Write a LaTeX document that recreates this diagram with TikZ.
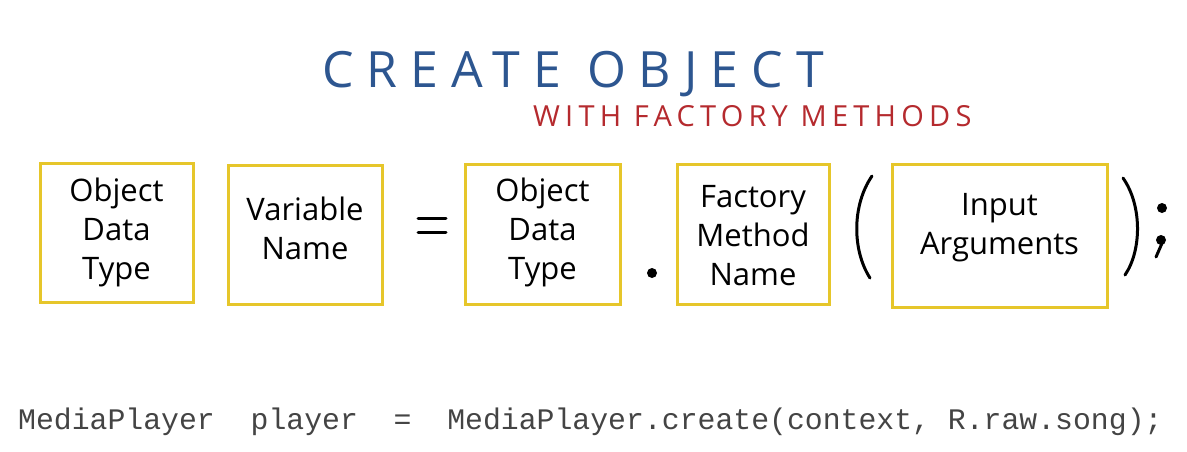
\documentclass[tikz,border=0pt]{standalone}
\usepackage{fontspec}
\setmainfont{Open Sans}
\newfontfamily\codefont{Liberation Mono}
\newfontfamily\handfont{Open Sans}
\newfontfamily\titlefont[LetterSpace=26]{Open Sans}
\newfontfamily\subfont[LetterSpace=18]{Open Sans}
\definecolor{boxyellow}{HTML}{E6C62A}
\definecolor{titleblue}{HTML}{2D5690}
\definecolor{titlered}{HTML}{B52A2E}
\definecolor{codegray}{HTML}{444444}
\begin{document}
\begin{tikzpicture}[x=1pt,y=-1pt,
  termbox/.style={draw=boxyellow, line width=3pt, fill=white, inner sep=0pt},
  boxtext/.style={font=\handfont\fontsize{31}{39}\selectfont, align=center, text=black},
  sym/.style={line width=3pt, line cap=round, black}]
\useasboundingbox[fill=white] (0,0) rectangle (1187,451);
% title
\node[font=\titlefont\fontsize{50}{60}\selectfont, text=titleblue, anchor=base west, inner sep=0pt] (title) at (322,87) {CREATE OBJECT};
\node[font=\subfont\fontsize{29}{36}\selectfont, text=titlered, anchor=base west, inner sep=0pt] (subtitle) at (533,126) {WITH FACTORY METHODS};
% boxes
\node[termbox, minimum width=153pt, minimum height=139pt] (b1) at (116.5,232.5) {};
\node[termbox, minimum width=154pt, minimum height=139pt] (b2) at (305,234.5) {};
\node[termbox, minimum width=155pt, minimum height=140pt] (b3) at (542.5,234) {};
\node[termbox, minimum width=152pt, minimum height=140pt] (b4) at (753,234) {};
\node[termbox, minimum width=215pt, minimum height=143pt] (b5) at (999.5,235.5) {};
% box texts
\node[boxtext] (t1) at (116.5,232) {Object\\Data\\Type};
\node[boxtext] (t2) at (305,228) {Variable\\Name};
\node[boxtext] (t3) at (542.5,232) {Object\\Data\\Type};
\node[boxtext] (t4) at (753,236) {Factory\\Method\\Name};
\node[boxtext] (t5) at (999.5,228) {Input\\Arguments};
% equals
\coordinate (e1a) at (418,218); \coordinate (e1b) at (446,218);
\coordinate (e2a) at (418,232); \coordinate (e2b) at (446,232);
\draw[sym] (e1a) -- (e1b);
\draw[sym] (e2a) -- (e2b);
% dot
\fill (652,273) circle (5pt);
% parentheses
\coordinate (lp1) at (872,176); \coordinate (lp2) at (870,278);
\draw[sym] (lp1) .. controls (852,205) and (852,250) .. (lp2);
\coordinate (rp1) at (1123,178); \coordinate (rp2) at (1125,275);
\draw[sym] (rp1) .. controls (1142,205) and (1142,250) .. (rp2);
% semicolon
\fill (1162,208) circle (5pt);
\fill (1161,240) circle (5pt);
\coordinate (sc1) at (1163,241); \coordinate (sc2) at (1156,257);
\draw[sym] (sc1) -- (sc2);
% code
\node[font=\codefont\fontsize{29.8}{34}\selectfont, text=codegray, anchor=base west, inner sep=0pt] (code) at (18,429) {MediaPlayer\ \ player\ \ =\ \ MediaPlayer.create(context, R.raw.song);};
\end{tikzpicture}
\end{document}
